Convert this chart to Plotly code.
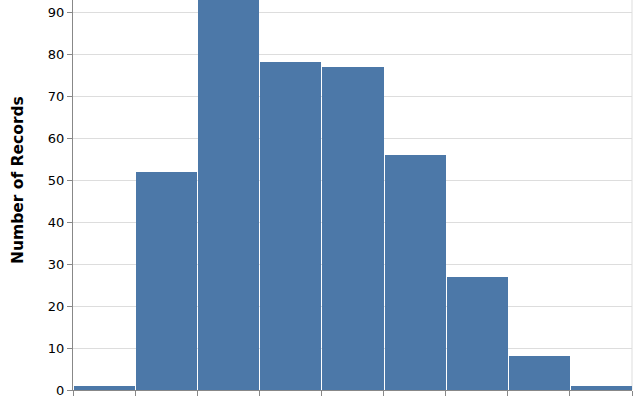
import plotly.graph_objects as go

# histogram bins (bin index) and counts
bin_starts = [0, 1, 2, 3, 4, 5, 6, 7, 8]
counts = [1, 52, 96, 78, 77, 56, 27, 8, 1]
y_ticks = [0, 10, 20, 30, 40, 50, 60, 70, 80, 90]

bar_color = "#4c78a8"
axis_color = "#888888"
grid_color = "#dddddd"
font = "DejaVu Sans"

gap = 1 / 62  # ~1px spacing between bins

fig = go.Figure()
fig.add_trace(go.Bar(
    x=bin_starts, y=counts,
    offset=gap, width=1 - gap,
    marker=dict(color=bar_color, line=dict(width=0)),
    hoverinfo="y",
))

fig.update_layout(
    width=640, height=400,
    margin=dict(l=73, r=8, t=0, b=10),
    paper_bgcolor="white", plot_bgcolor="white",
    showlegend=False,
    bargap=0,
    font=dict(family=font, color="black"),
    xaxis=dict(
        range=[0, 9], tickvals=list(range(10)), showticklabels=False,
        ticks="outside", ticklen=5, tickcolor=axis_color,
        showline=True, linecolor=axis_color, linewidth=1,
        showgrid=False, zeroline=False, automargin=False,
    ),
    yaxis=dict(
        range=[0, 390 / 4.2], tickvals=y_ticks,
        ticks="outside", ticklen=5, tickcolor=axis_color,
        tickfont=dict(size=13, color="black"),
        showline=True, linecolor=axis_color, linewidth=1,
        showgrid=True, gridcolor=grid_color, zeroline=False, automargin=False,
    ),
    # axis title centred on the full (cropped) axis, so set as annotation
    annotations=[dict(
        text="<b>Number of Records</b>", textangle=-90,
        xref="paper", yref="paper", x=-55 / 559, y=210 / 390,
        xanchor="center", yanchor="middle", showarrow=False,
        font=dict(size=15.5, color="black"),
    )],
    shapes=[dict(type="line", xref="paper", yref="paper", x0=1, x1=1, y0=0, y1=1,
                 line=dict(color=grid_color, width=1), layer="below")],
)

# drop the browser's default body margin so the figure sits at 0,0
fig.write_html("out.html", config={"displayModeBar": False},
               post_script="document.body.style.margin='0';")
